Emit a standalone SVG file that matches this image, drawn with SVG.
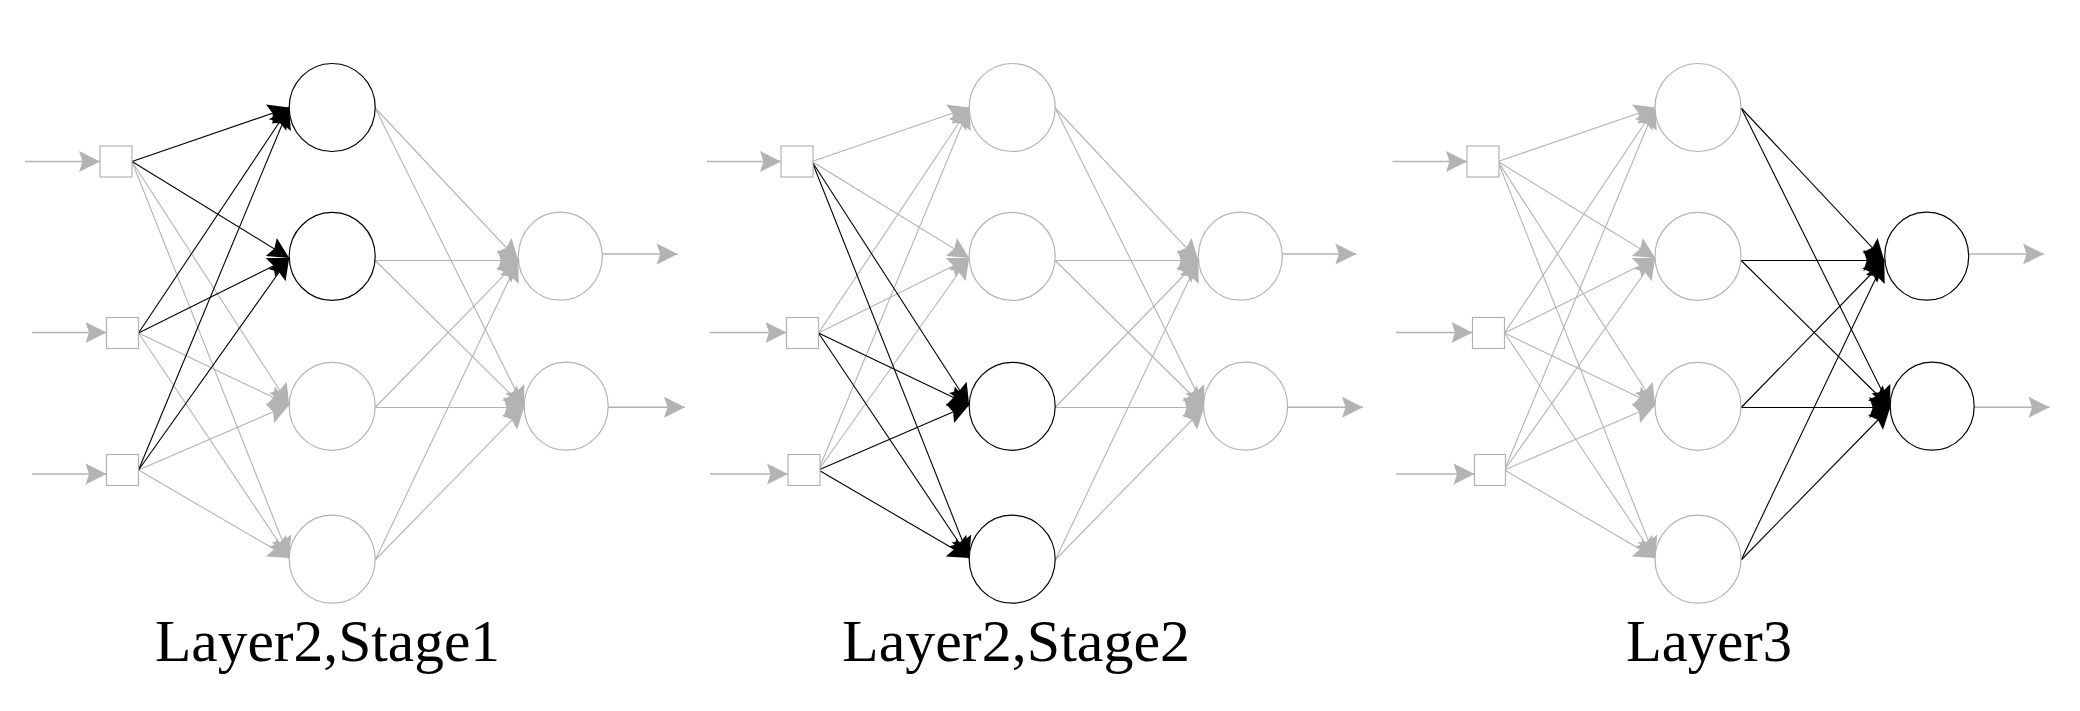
<svg xmlns="http://www.w3.org/2000/svg" width="2080" height="711" viewBox="0 0 2080 711">
<defs>
<marker id="mg" markerUnits="userSpaceOnUse" markerWidth="26" markerHeight="26" viewBox="-23 -13 26 26" refX="0" refY="0" orient="auto"><path d="M0,0 L-21,-10.5 L-17.5,0 L-21,10.5 Z" fill="#b3b3b3"/></marker>
<marker id="mb" markerUnits="userSpaceOnUse" markerWidth="26" markerHeight="26" viewBox="-23 -13 26 26" refX="0" refY="0" orient="auto"><path d="M0,0 L-21,-10.5 L-17.5,0 L-21,10.5 Z" fill="#000"/></marker>
</defs>
<style>
.cg{stroke:#b3b3b3;stroke-width:1.1;fill:none;marker-end:url(#mg)}
.cb{stroke:#000;stroke-width:1.1;fill:none;marker-end:url(#mb)}
.io{stroke:#b3b3b3;stroke-width:1.6;fill:none;marker-end:url(#mg)}
.ng{fill:#fff;stroke:#b3b3b3;stroke-width:1.2}
.nb{fill:#fff;stroke:#000;stroke-width:1.2}
.lbl{font-family:"Liberation Serif","Times New Roman",serif;font-size:60px;fill:#000}
</style>
<rect width="2080" height="711" fill="#fff"/>

<g id="connectors">
  <g id="conn-p1">
    <line class="cg" x1="132" y1="161.5" x2="289.2" y2="405"/>
    <line class="cg" x1="132" y1="161.5" x2="289.2" y2="558"/>
    <line class="cg" x1="138.5" y1="333" x2="289.2" y2="405"/>
    <line class="cg" x1="138.5" y1="333" x2="289.2" y2="558"/>
    <line class="cg" x1="138.5" y1="470" x2="289.2" y2="405"/>
    <line class="cg" x1="138.5" y1="470" x2="289.2" y2="558"/>
    <line class="cg" x1="375.2" y1="108" x2="518.3" y2="260.5"/>
    <line class="cg" x1="375.2" y1="108" x2="524.2" y2="407.5"/>
    <line class="cg" x1="375.2" y1="260.5" x2="518.3" y2="260.5"/>
    <line class="cg" x1="375.2" y1="260.5" x2="524.2" y2="407.5"/>
    <line class="cg" x1="375.2" y1="407.5" x2="518.3" y2="260.5"/>
    <line class="cg" x1="375.2" y1="407.5" x2="524.2" y2="407.5"/>
    <line class="cg" x1="375.2" y1="560" x2="518.3" y2="260.5"/>
    <line class="cg" x1="375.2" y1="560" x2="524.2" y2="407.5"/>
    <line class="cb" x1="132" y1="161.5" x2="289.2" y2="107.5"/>
    <line class="cb" x1="132" y1="161.5" x2="289.2" y2="258"/>
    <line class="cb" x1="138.5" y1="333" x2="289.2" y2="107.5"/>
    <line class="cb" x1="138.5" y1="333" x2="289.2" y2="258"/>
    <line class="cb" x1="138.5" y1="470" x2="289.2" y2="107.5"/>
    <line class="cb" x1="138.5" y1="470" x2="289.2" y2="258"/>
    <line class="io" x1="25" y1="161.5" x2="100" y2="161.5"/>
    <line class="io" x1="32" y1="332.5" x2="106.5" y2="332.5"/>
    <line class="io" x1="32" y1="474" x2="106.5" y2="474"/>
    <line class="io" x1="602.3" y1="254" x2="677.7" y2="254"/>
    <line class="io" x1="608.2" y1="407.3" x2="685" y2="407.3"/>
  </g>
  <g id="conn-p2" transform="translate(680,0)">
    <line class="cg" x1="132" y1="161.5" x2="289.2" y2="107.5"/>
    <line class="cg" x1="132" y1="161.5" x2="289.2" y2="258"/>
    <line class="cg" x1="138.5" y1="333" x2="289.2" y2="107.5"/>
    <line class="cg" x1="138.5" y1="333" x2="289.2" y2="258"/>
    <line class="cg" x1="138.5" y1="470" x2="289.2" y2="107.5"/>
    <line class="cg" x1="138.5" y1="470" x2="289.2" y2="258"/>
    <line class="cg" x1="375.2" y1="108" x2="518.3" y2="260.5"/>
    <line class="cg" x1="375.2" y1="108" x2="524.2" y2="407.5"/>
    <line class="cg" x1="375.2" y1="260.5" x2="518.3" y2="260.5"/>
    <line class="cg" x1="375.2" y1="260.5" x2="524.2" y2="407.5"/>
    <line class="cg" x1="375.2" y1="407.5" x2="518.3" y2="260.5"/>
    <line class="cg" x1="375.2" y1="407.5" x2="524.2" y2="407.5"/>
    <line class="cg" x1="375.2" y1="560" x2="518.3" y2="260.5"/>
    <line class="cg" x1="375.2" y1="560" x2="524.2" y2="407.5"/>
    <line class="cb" x1="132" y1="161.5" x2="289.2" y2="405"/>
    <line class="cb" x1="132" y1="161.5" x2="289.2" y2="558"/>
    <line class="cb" x1="138.5" y1="333" x2="289.2" y2="405"/>
    <line class="cb" x1="138.5" y1="333" x2="289.2" y2="558"/>
    <line class="cb" x1="138.5" y1="470" x2="289.2" y2="405"/>
    <line class="cb" x1="138.5" y1="470" x2="289.2" y2="558"/>
    <line class="io" x1="27" y1="161.5" x2="101" y2="161.5"/>
    <line class="io" x1="30" y1="332.5" x2="106.5" y2="332.5"/>
    <line class="io" x1="30" y1="474" x2="108" y2="474"/>
    <line class="io" x1="602.3" y1="254" x2="676.3" y2="254"/>
    <line class="io" x1="608" y1="407.3" x2="683" y2="407.3"/>
  </g>
  <g id="conn-p3" transform="translate(1366,0)">
    <line class="cg" x1="132" y1="161.5" x2="289.2" y2="107.5"/>
    <line class="cg" x1="132" y1="161.5" x2="289.2" y2="258"/>
    <line class="cg" x1="132" y1="161.5" x2="289.2" y2="405"/>
    <line class="cg" x1="132" y1="161.5" x2="289.2" y2="558"/>
    <line class="cg" x1="138.5" y1="333" x2="289.2" y2="107.5"/>
    <line class="cg" x1="138.5" y1="333" x2="289.2" y2="258"/>
    <line class="cg" x1="138.5" y1="333" x2="289.2" y2="405"/>
    <line class="cg" x1="138.5" y1="333" x2="289.2" y2="558"/>
    <line class="cg" x1="138.5" y1="470" x2="289.2" y2="107.5"/>
    <line class="cg" x1="138.5" y1="470" x2="289.2" y2="258"/>
    <line class="cg" x1="138.5" y1="470" x2="289.2" y2="405"/>
    <line class="cg" x1="138.5" y1="470" x2="289.2" y2="558"/>
    <line class="cb" x1="375.2" y1="108" x2="518.3" y2="260.5"/>
    <line class="cb" x1="375.2" y1="108" x2="524.2" y2="407.5"/>
    <line class="cb" x1="375.2" y1="260.5" x2="518.3" y2="260.5"/>
    <line class="cb" x1="375.2" y1="260.5" x2="524.2" y2="407.5"/>
    <line class="cb" x1="375.2" y1="407.5" x2="518.3" y2="260.5"/>
    <line class="cb" x1="375.2" y1="407.5" x2="524.2" y2="407.5"/>
    <line class="cb" x1="375.2" y1="560" x2="518.3" y2="260.5"/>
    <line class="cb" x1="375.2" y1="560" x2="524.2" y2="407.5"/>
    <line class="io" x1="26.5" y1="161.5" x2="101" y2="161.5"/>
    <line class="io" x1="30" y1="332.5" x2="106.5" y2="332.5"/>
    <line class="io" x1="30" y1="474" x2="108.5" y2="474"/>
    <line class="io" x1="603" y1="254" x2="678" y2="254"/>
    <line class="io" x1="608.6" y1="407.3" x2="683.6" y2="407.3"/>
  </g>
</g>

<g id="panel1">
  <g id="p1-in1"><rect class="ng" x="100" y="146" width="32" height="31"/></g>
  <g id="p1-in2"><rect class="ng" x="106.5" y="317.5" width="32" height="31"/></g>
  <g id="p1-in3"><rect class="ng" x="106.5" y="454.5" width="32" height="31"/></g>
  <g id="p1-h1"><ellipse class="nb" cx="332.2" cy="107.5" rx="43" ry="44"/></g>
  <g id="p1-h2"><ellipse class="nb" cx="332.2" cy="256.4" rx="43" ry="44"/></g>
  <g id="p1-h3"><ellipse class="ng" cx="332.2" cy="406.3" rx="43" ry="44"/></g>
  <g id="p1-h4"><ellipse class="ng" cx="332.2" cy="559.2" rx="43" ry="44"/></g>
  <g id="p1-o1"><ellipse class="ng" cx="560.3" cy="256.2" rx="42" ry="44"/></g>
  <g id="p1-o2"><ellipse class="ng" cx="566.2" cy="406.2" rx="42" ry="44"/></g>
  <g id="p1-label"><text class="lbl" x="155" y="661" textLength="345" lengthAdjust="spacingAndGlyphs">Layer2,Stage1</text></g>
</g>

<g id="panel2" transform="translate(680,0)">
  <g id="p2-in1"><rect class="ng" x="101" y="146" width="32" height="31"/></g>
  <g id="p2-in2"><rect class="ng" x="106.5" y="317.5" width="32" height="31"/></g>
  <g id="p2-in3"><rect class="ng" x="108" y="454.5" width="32" height="31"/></g>
  <g id="p2-h1"><ellipse class="ng" cx="332.2" cy="107.5" rx="43" ry="44"/></g>
  <g id="p2-h2"><ellipse class="ng" cx="332.2" cy="256.4" rx="43" ry="44"/></g>
  <g id="p2-h3"><ellipse class="nb" cx="332.2" cy="406.3" rx="43" ry="44"/></g>
  <g id="p2-h4"><ellipse class="nb" cx="332.2" cy="559.2" rx="43" ry="44"/></g>
  <g id="p2-o1"><ellipse class="ng" cx="560.3" cy="256.2" rx="42" ry="44"/></g>
  <g id="p2-o2"><ellipse class="ng" cx="565.6" cy="406.2" rx="42" ry="44"/></g>
  <g id="p2-label"><text class="lbl" x="162" y="661" textLength="348" lengthAdjust="spacingAndGlyphs">Layer2,Stage2</text></g>
</g>

<g id="panel3" transform="translate(1366,0)">
  <g id="p3-in1"><rect class="ng" x="101" y="146" width="32" height="31"/></g>
  <g id="p3-in2"><rect class="ng" x="106.5" y="317.5" width="32" height="31"/></g>
  <g id="p3-in3"><rect class="ng" x="108.5" y="454.5" width="31" height="31"/></g>
  <g id="p3-h1"><ellipse class="ng" cx="332" cy="107.5" rx="43" ry="44"/></g>
  <g id="p3-h2"><ellipse class="ng" cx="332" cy="256.4" rx="43" ry="44"/></g>
  <g id="p3-h3"><ellipse class="ng" cx="332" cy="406.3" rx="43" ry="44"/></g>
  <g id="p3-h4"><ellipse class="ng" cx="332" cy="559.2" rx="43" ry="44"/></g>
  <g id="p3-o1"><ellipse class="nb" cx="560.7" cy="256.2" rx="42" ry="44"/></g>
  <g id="p3-o2"><ellipse class="nb" cx="566.2" cy="406.2" rx="42" ry="44"/></g>
  <g id="p3-label"><text class="lbl" x="260" y="661" textLength="166" lengthAdjust="spacingAndGlyphs">Layer3</text></g>
</g>
</svg>
